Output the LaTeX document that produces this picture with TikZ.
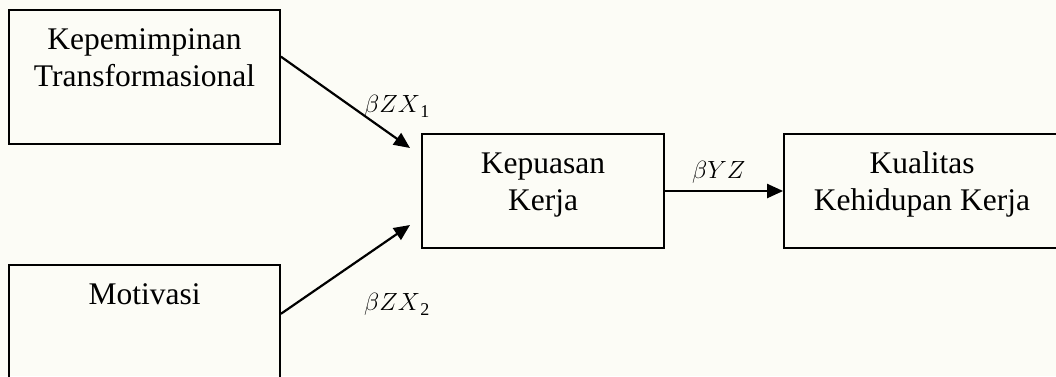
\documentclass[tikz,border=0pt]{standalone}
\usepackage{fontspec}
\setmainfont{Liberation Serif}
\usetikzlibrary{arrows.meta,calc}
\definecolor{paper}{RGB}{252,252,246}
\newcommand{\coefsub}[1]{\kern0.5pt\raisebox{-5.5pt}{\fontsize{18}{18}\selectfont #1}}
\tikzset{
  box/.style={draw=black, line width=1.8pt, inner sep=0pt,
              minimum width=#1, minimum height=0pt},
  boxtext/.style={anchor=north, align=center, inner sep=0pt,
                  font=\fontsize{31.5}{37}\selectfont},
  coef/.style={anchor=base west, inner sep=0pt,
               font=\fontsize{24.88}{29}\selectfont},
  arr/.style={line width=2.2pt, -{Triangle[length=16pt,width=14pt]}},
}
\begin{document}
\begin{tikzpicture}[x=1pt, y=-1pt]
  \useasboundingbox (0,0) rectangle (1056,376);
  \fill[paper] (0,0) rectangle (1056,376);
  \clip (0,0) rectangle (1056,376);

  % boxes
  \node[box=271pt, minimum height=134pt] (b1) at (144.5,77) {};
  \node[box=271pt, minimum height=134pt] (b2) at (144.5,332) {};
  \node[box=242pt, minimum height=114pt] (b3) at (543,191) {};
  \node[box=276pt, minimum height=114pt] (b4) at (922,191) {};

  % box texts
  \node[boxtext] (t1) at ($(b1.north)+(0,14.1)$) {\strut Kepemimpinan\\Transformasional};
  \node[boxtext] (t2) at ($(b2.north)+(0,14.1)$) {\strut Motivasi};
  \node[boxtext] (t3) at ($(b3.north)+(0,14.1)$) {\strut Kepuasan\\Kerja};
  \node[boxtext] (t4) at ($(b4.north)+(0,14.1)$) {\strut Kualitas\\Kehidupan Kerja};

  % connectors
  \coordinate (s1) at ($(b1.north east)!0.35!(b1.south east)$);
  \coordinate (e1) at (410,148);
  \coordinate (s2) at ($(b2.north east)!0.366!(b2.south east)$);
  \coordinate (e2) at (410,225);
  \draw[arr] (s1) -- (e1);
  \draw[arr] (s2) -- (e2);
  \draw[arr] (b3.east) -- (b4.west);

  % path coefficients
  \node[coef] (c1) at (364,112) {$\beta ZX$\coefsub{1}};
  \node[coef] (c2) at (364,310) {$\beta ZX$\coefsub{2}};
  \node[coef] (c3) at (692,178) {$\beta YZ$};
\end{tikzpicture}
\end{document}
